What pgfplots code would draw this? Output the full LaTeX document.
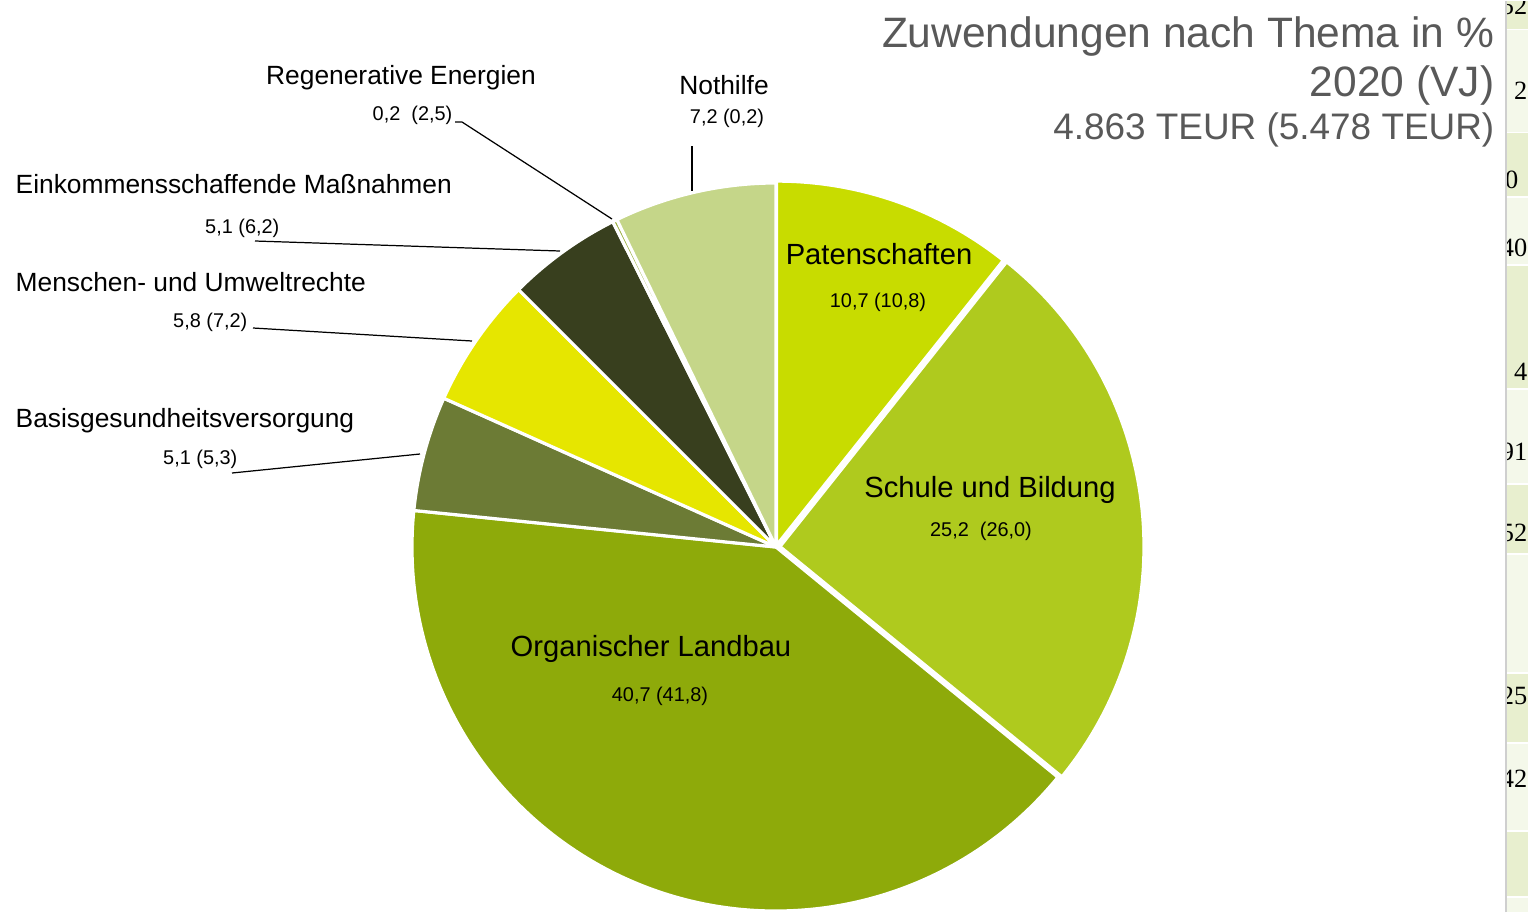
\documentclass[border=0pt]{standalone}
\usepackage{pgfplots}
\pgfplotsset{compat=1.18}
\usepackage{fontspec}
\setmainfont{Liberation Sans}
\newfontfamily\seriffont{Liberation Serif}
\definecolor{patc}{HTML}{C8DC00}
\definecolor{schc}{HTML}{AFCA1E}
\definecolor{orgc}{HTML}{8EAA0A}
\definecolor{basc}{HTML}{6C7B35}
\definecolor{menc}{HTML}{E6E600}
\definecolor{einc}{HTML}{383F1E}
\definecolor{regc}{HTML}{9BB040}
\definecolor{notc}{HTML}{C5D689}
\definecolor{titc}{HTML}{595959}
\definecolor{bandg}{HTML}{E8EFCF}
\definecolor{bandl}{HTML}{F4F8EA}
\definecolor{sepc}{HTML}{CFCFCF}
\newcommand\fLab{\fontsize{7.5}{9}\selectfont}
\newcommand\fIn{\fontsize{8.3}{10}\selectfont}
\newcommand\fNum{\fontsize{5.66}{7}\selectfont}
\newcommand\fTit{\fontsize{12.1}{13.2}\selectfont}
\newcommand\fSub{\fontsize{10.5}{12}\selectfont}
\newcommand\fStrip{\seriffont\fontsize{7.5}{9}\selectfont}
% slice: #1 share before, #2 share (percent), #3 colour, #4 explode (cm)
\newcommand\slice[4]{%
 \fill[#3, draw=white, line width=0.9pt, line join=round, shift={({90-3.6*(#1+#2/2)}:#4cm)}]
 (7.76,3.65) -- ++({90-3.6*#1}:3.64cm) arc[start angle={90-3.6*#1}, end angle={90-3.6*(#1+#2)}, radius=3.64cm] -- cycle;}
\begin{document}
\begin{tikzpicture}
\begin{axis}[x=1cm, y=1cm, xmin=0, xmax=15.35, ymin=0, ymax=9.11,
  hide axis, scale only axis, clip=false]
\path (0,0) rectangle (15.35,9.11);
\begin{scope}
\clip (0,0) rectangle (15.35,9.11);
% pie: shares in percent, clockwise from 12 o'clock
\slice{0}{10.7}{patc}{0.02}
\slice{10.7}{25.2}{schc}{0.04}
\slice{35.9}{40.7}{orgc}{0}
\slice{76.6}{5.1}{basc}{0}
\slice{81.7}{5.8}{menc}{0}
\slice{87.5}{5.1}{einc}{0}
\slice{92.6}{0.2}{regc}{0}
\slice{92.8}{7.2}{notc}{0}
% right strip (cut-off neighbouring table)
\fill[bandg] (15.07,9.11) rectangle (15.28,8.83);
\fill[bandl] (15.07,8.82) rectangle (15.28,7.80);
\fill[bandg] (15.07,7.79) rectangle (15.28,7.16);
\fill[bandl] (15.07,7.14) rectangle (15.28,6.48);
\fill[bandg] (15.07,6.46) rectangle (15.28,5.24);
\fill[bandl] (15.07,5.22) rectangle (15.28,4.29);
\fill[bandg] (15.07,4.27) rectangle (15.28,3.59);
\fill[bandl] (15.07,3.57) rectangle (15.28,2.40);
\fill[bandg] (15.07,2.38) rectangle (15.28,1.70);
\fill[bandl] (15.07,1.68) rectangle (15.28,0.82);
\fill[bandg] (15.07,0.80) rectangle (15.28,0.16);
\fill[bandl] (15.07,0.14) rectangle (15.28,0);
\end{scope}
\begin{scope}
\clip (15.07,0) rectangle (15.35,9.11);
\node[anchor=base east, font=\fStrip, inner sep=0pt] at (15.28,8.98) {52};
\node[anchor=base east, font=\fStrip, inner sep=0pt] at (15.28,8.13) {2};
\node[anchor=base east, font=\fStrip, inner sep=0pt] at (15.19,7.24) {0};
\node[anchor=base east, font=\fStrip, inner sep=0pt] at (15.28,6.56) {40};
\node[anchor=base east, font=\fStrip, inner sep=0pt] at (15.28,5.32) {4};
\node[anchor=base east, font=\fStrip, inner sep=0pt] at (15.28,4.52) {91};
\node[anchor=base east, font=\fStrip, inner sep=0pt] at (15.28,3.71) {52};
\node[anchor=base east, font=\fStrip, inner sep=0pt] at (15.28,2.08) {25};
\node[anchor=base east, font=\fStrip, inner sep=0pt] at (15.28,1.25) {42};
\end{scope}
\draw[sepc, line width=0.57pt] (15.06,0) -- (15.06,9.11);
% leader lines
\draw[black, line width=0.35pt] (4.55,7.90) -- (4.62,7.90) -- (6.12,6.93);
\draw[black, line width=0.35pt] (6.92,7.66) -- (6.92,7.21);
\draw[black, line width=0.35pt] (2.55,6.71) -- (5.60,6.61);
\draw[black, line width=0.35pt] (2.53,5.84) -- (4.72,5.71);
\draw[black, line width=0.35pt] (2.32,4.39) -- (4.20,4.58);
% outside labels
\node[anchor=base, font=\fLab, inner sep=0pt] at (4.01,8.28) {Regenerative Energien};
\node[anchor=base east, font=\fNum, inner sep=0pt] at (4.53,7.92) {0,2~~(2,5)};
\node[anchor=base, font=\fLab, inner sep=0pt] at (7.24,8.18) {Nothilfe};
\node[anchor=base, font=\fNum, inner sep=0pt] at (7.27,7.89) {7,2 (0,2)};
\node[anchor=base west, font=\fLab, inner sep=0pt] at (0.15,7.19) {Einkommensschaffende Maßnahmen};
\node[anchor=base east, font=\fNum, inner sep=0pt] at (2.80,6.79) {5,1 (6,2)};
\node[anchor=base west, font=\fLab, inner sep=0pt] at (0.15,6.21) {Menschen- und Umweltrechte};
\node[anchor=base east, font=\fNum, inner sep=0pt] at (2.48,5.85) {5,8 (7,2)};
\node[anchor=base west, font=\fLab, inner sep=0pt] at (0.15,4.85) {Basisgesundheitsversorgung};
\node[anchor=base east, font=\fNum, inner sep=0pt] at (2.38,4.48) {5,1 (5,3)};
% inside labels
\node[anchor=base, font=\fIn, inner sep=0pt] at (8.79,6.48) {Patenschaften};
\node[anchor=base, font=\fNum, inner sep=0pt] at (8.78,6.05) {10,7 (10,8)};
\node[anchor=base, font=\fIn, inner sep=0pt] at (9.90,4.15) {Schule und Bildung};
\node[anchor=base, font=\fNum, inner sep=0pt] at (9.81,3.76) {25,2~~(26,0)};
\node[anchor=base, font=\fIn, inner sep=0pt] at (6.51,2.56) {Organischer Landbau};
\node[anchor=base, font=\fNum, inner sep=0pt] at (6.60,2.11) {40,7 (41,8)};
% title
\node[anchor=base east, font=\fTit, text=titc, inner sep=0pt] at (14.95,8.65) {Zuwendungen nach Thema in \%};
\node[anchor=base east, font=\fTit, text=titc, inner sep=0pt] at (14.95,8.16) {2020 (VJ)};
\node[anchor=base east, font=\fSub, text=titc, inner sep=0pt] at (14.95,7.73) {4.863 TEUR (5.478 TEUR)};
\end{axis}
\end{tikzpicture}
\end{document}
